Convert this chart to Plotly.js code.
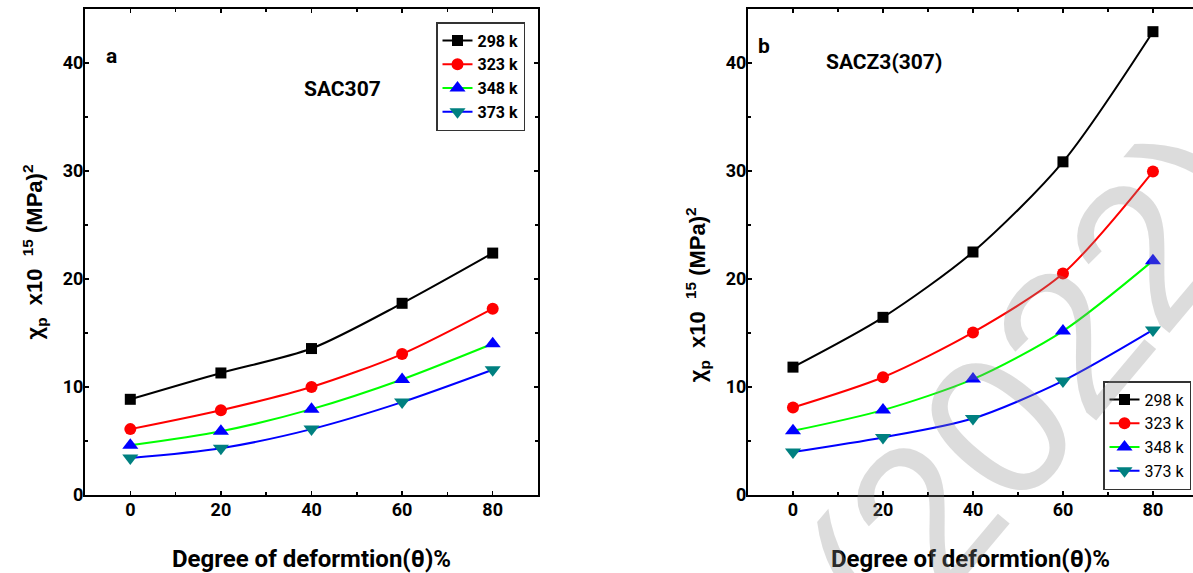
<!DOCTYPE html>
<html><head><meta charset="utf-8">
<script src="https://cdn.plot.ly/plotly-3.0.1.min.js"></script>
<style>html,body{margin:0;padding:0;background:#fff}#chart{width:1193px;height:573px}</style>
</head><body><div id="chart"></div>
<script>
// ---- data ----
const deformation = [0, 20, 40, 60, 80];
const seriesNames = ['298 k', '323 k', '348 k', '373 k'];
const sac307_298 = [8.86, 11.3, 13.56, 17.75, 22.4];
const sac307_323 = [6.1, 7.85, 10.0, 13.05, 17.25];
const sac307_348 = [4.6, 5.9, 7.95, 10.7, 14.0];
const sac307_373 = [3.42, 4.33, 6.1, 8.6, 11.6];
const sacz3_298 = [11.84, 16.45, 22.5, 30.85, 42.9];
const sacz3_323 = [8.1, 10.9, 15.05, 20.5, 29.95];
const sacz3_348 = [5.94, 7.86, 10.73, 15.18, 21.7];
const sacz3_373 = [3.98, 5.33, 7.08, 10.56, 15.28];
const xTickVals = [0, 20, 40, 60, 80];
const yTickVals = [0, 10, 20, 30, 40];
const panelLabels = ['a', 'b'];
const panelTitles = ['SAC307', 'SACZ3(307)'];
const xTitle = 'Degree of deformtion(θ)%';
const yTitle = 'χ<sub>p</sub>  x10  <sup>15</sup> (MPa)<sup>2</sup>';
const watermark = '(2022)';

// ---- styles ----
const COND = 'Roboto, Liberation Sans, sans-serif';
const ARIAL = 'Liberation Sans, Arial, sans-serif';
const styles = [
  {line: '#000000', marker: '#000000', symbol: 'square', size: 11},
  {line: '#ff0000', marker: '#ff0000', symbol: 'circle', size: 12},
  {line: '#00ff00', marker: '#0000ff', symbol: 'triangle-up', size: 14},
  {line: '#0000ff', marker: '#008080', symbol: 'triangle-down', size: 14}
];

function mk(y, i, xa, ya, leg) {
  const s = styles[i];
  return {
    x: deformation, y: y, type: 'scatter', mode: 'lines+markers',
    name: seriesNames[i], xaxis: xa, yaxis: ya, legend: leg,
    line: {color: s.line, width: 2, shape: 'spline', smoothing: 0.8},
    marker: {color: s.marker, symbol: s.symbol, size: s.size, line: {width: 0}}
  };
}

const leftSets = [sac307_298, sac307_323, sac307_348, sac307_373];
const rightSets = [sacz3_298, sacz3_323, sacz3_348, sacz3_373];
const traces = [];
leftSets.forEach((d, i) => traces.push(mk(d, i, 'x', 'y', 'legend')));
rightSets.forEach((d, i) => traces.push(mk(d, i, 'x2', 'y2', 'legend2')));

const tickFont = {family: COND, size: 18, color: '#000', weight: 'bold'};
function xAxis(domain, range, anchor) {
  return {
    domain: domain, range: range, anchor: anchor,
    tickvals: xTickVals, ticks: 'inside', ticklen: 4, tickwidth: 1.5, tickcolor: '#000',
    ticklabelstandoff: -3,
    minor: {ticks: 'inside', dtick: 10, tick0: 0, ticklen: 3, tickcolor: '#000', tickwidth: 1.5},
    showline: true, linecolor: '#000', linewidth: 2, mirror: 'ticks',
    showgrid: false, zeroline: false, tickfont: tickFont,
    title: {text: xTitle, font: {family: COND, size: 24, color: '#000', weight: 'bold'}, standoff: 32}
  };
}
function yAxis(domain, anchor, mirror, text, standoff) {
  return {
    domain: domain, range: [0, 45], anchor: anchor,
    tickvals: yTickVals, ticks: 'inside', ticklen: 4, tickwidth: 1.5, tickcolor: '#000',
    ticklabelstandoff: -4,
    minor: {ticks: 'inside', dtick: 5, tick0: 0, ticklen: 3, tickcolor: '#000', tickwidth: 1.5},
    showline: true, linecolor: '#000', linewidth: 2, mirror: mirror,
    showgrid: false, zeroline: false, tickfont: tickFont,
    title: {text: text, font: {family: ARIAL, size: 22, color: '#000', weight: 'bold'}, standoff: standoff}
  };
}

const W = 1193, H = 573;
const yDom = [(H - 495) / H, (H - 9) / H];
const pad = '&nbsp;'.repeat(14);
const layout = {
  width: W, height: H,
  margin: {l: 0, r: 0, t: 0, b: 0},
  paper_bgcolor: '#fff', plot_bgcolor: '#fff',
  showlegend: true,
  xaxis: xAxis([85 / W, 538 / W], [-10, 90], 'y'),
  yaxis: yAxis(yDom, 'x', 'ticks', yTitle, 14),
  xaxis2: xAxis([748 / W, 1], [-10, 88.9], 'y2'),
  yaxis2: yAxis(yDom, 'x2', false, yTitle + pad, 14),
  legend: {
    x: 436 / W, y: 1 - 22 / H, xanchor: 'left', yanchor: 'top',
    bordercolor: '#333', borderwidth: 1.5, bgcolor: '#fff',
    font: {family: COND, size: 16, color: '#000', weight: 'bold'},
    tracegroupgap: 0, itemwidth: 30
  },
  legend2: {
    x: 1103 / W, y: 1 - 381 / H, xanchor: 'left', yanchor: 'top',
    bordercolor: '#333', borderwidth: 1.5, bgcolor: '#fff',
    font: {family: COND, size: 16, color: '#000'},
    tracegroupgap: 0, itemwidth: 30
  },
  annotations: [
    {text: watermark, xref: 'paper', yref: 'paper', x: 1035 / W, y: 1 - 383 / H,
     xanchor: 'center', yanchor: 'middle',
     showarrow: false, textangle: -50, font: {family: ARIAL, size: 205, color: 'rgba(140,140,140,0.3)'}},
    {text: panelLabels[0], xref: 'paper', yref: 'paper', x: 104 / W, y: 1 - 42 / H, showarrow: false,
     font: {family: COND, size: 21, color: '#000', weight: 'bold'}},
    {text: panelTitles[0], xref: 'paper', yref: 'paper', x: 302 / W, y: 1 - 75 / H, showarrow: false,
     font: {family: COND, size: 21, color: '#000', weight: 'bold'}},
    {text: panelLabels[1], xref: 'paper', yref: 'paper', x: 764 / W, y: 1 - 32 / H, showarrow: false,
     font: {family: COND, size: 21, color: '#000', weight: 'bold'}},
    {text: panelTitles[1], xref: 'paper', yref: 'paper', x: 944 / W, y: 1 - 48 / H, showarrow: false,
     font: {family: COND, size: 21, color: '#000', weight: 'bold'}}
  ]
};

Plotly.newPlot('chart', traces, layout, {displayModeBar: false, staticPlot: true});
</script>
</body></html>
